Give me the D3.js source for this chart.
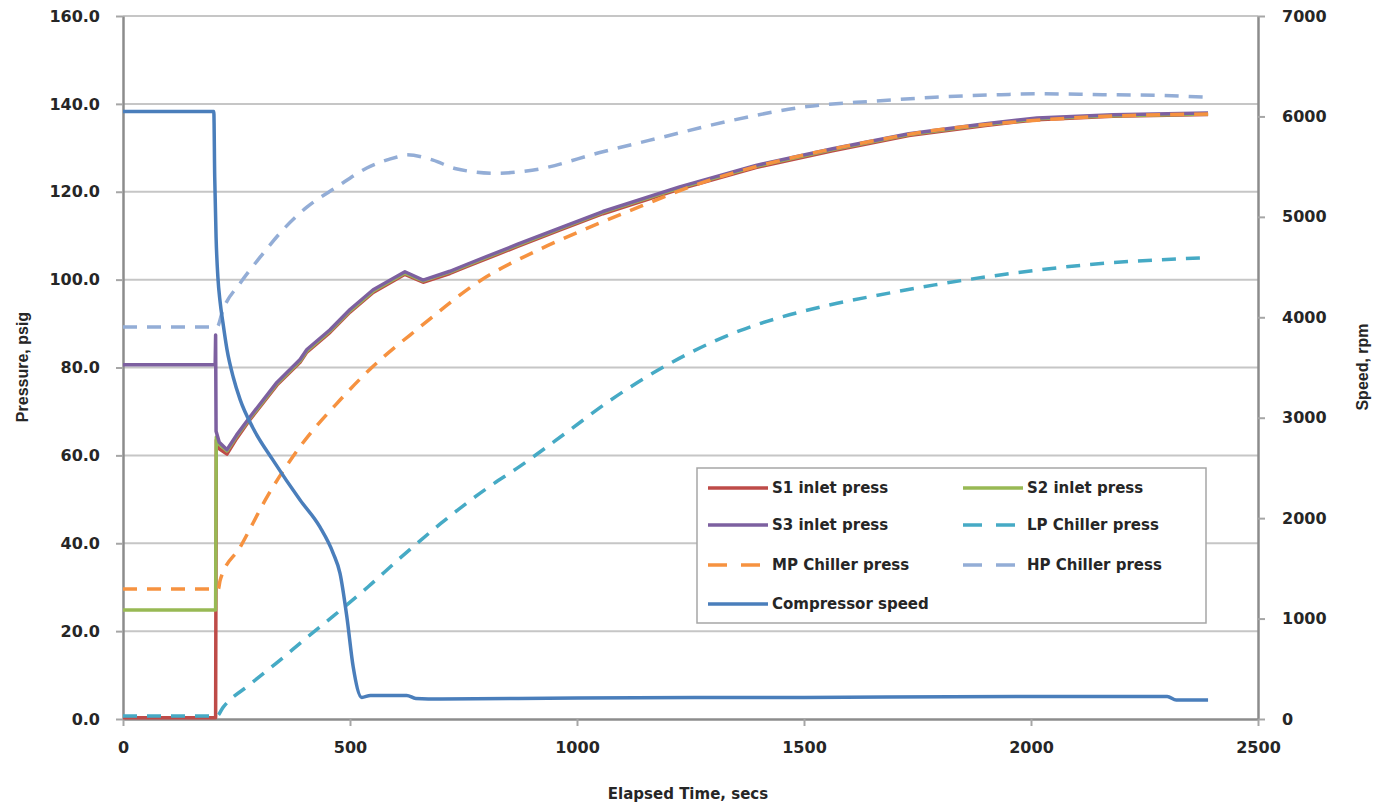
<!DOCTYPE html>
<html>
<head>
<meta charset="utf-8">
<script src="https://cdn.jsdelivr.net/npm/d3@7"></script>
<style>
  body { margin: 0; background: #fff; }
  .tick text { font-family: "DejaVu Sans", sans-serif; font-weight: bold; font-size: 16px; fill: #262626; }
  .axis-title { font-family: "Liberation Sans", Arial, sans-serif; font-weight: bold; font-size: 16px; fill: #262626; }
  .legend text { font-family: "DejaVu Sans", sans-serif; font-weight: bold; font-size: 15px; fill: #262626; }
</style>
</head>
<body>
<div id="chart"></div>
<script>
// axis ticks
const timeTicks = [0, 500, 1000, 1500, 2000, 2500];
const pressTicks = [0, 20, 40, 60, 80, 100, 120, 140, 160];
const speedTicks = [0, 1000, 2000, 3000, 4000, 5000, 6000, 7000];

// S1 inlet press
const s1Time = [0, 204, 205.5, 212, 229, 250, 280, 339, 390, 405, 456, 500, 551, 621, 661, 720, 758, 868, 963, 1057, 1226, 1394, 1563, 1731, 1900, 2013, 2181, 2390];
const s1Press = [0.3, 0.3, 63.5, 61.5, 60.3, 63.8, 68.2, 76.0, 81.2, 83.5, 88.0, 92.6, 97.1, 101.2, 99.4, 101.4, 103.0, 107.5, 111.3, 115.0, 120.6, 125.5, 129.3, 132.8, 135.1, 136.4, 137.2, 137.6];

// S2 inlet press
const s2Time = [0, 204, 205.5, 212, 229, 250, 280, 339, 390, 405, 456, 500, 551, 621, 661, 720, 758, 868, 963, 1057, 1226, 1394, 1563, 1731, 1900, 2013, 2181, 2390];
const s2Press = [24.8, 24.8, 64.2, 62.5, 61.0, 64.3, 68.5, 76.3, 81.5, 83.8, 88.3, 92.9, 97.4, 101.5, 99.7, 101.7, 103.3, 107.8, 111.6, 115.3, 120.9, 125.8, 129.6, 133.0, 135.3, 136.6, 137.3, 137.7];

// S3 inlet press
const s3Time = [0, 203, 204, 205, 212, 229, 250, 280, 339, 390, 405, 456, 500, 551, 621, 661, 720, 758, 868, 963, 1057, 1226, 1394, 1563, 1731, 1900, 2013, 2181, 2390];
const s3Press = [80.6, 80.6, 87.4, 65.5, 63.0, 61.3, 64.6, 68.8, 76.6, 81.8, 84.1, 88.6, 93.2, 97.7, 101.8, 99.9, 101.9, 103.5, 108.0, 111.8, 115.5, 121.1, 126.0, 129.8, 133.2, 135.5, 136.8, 137.5, 137.9];

// LP chiller press
const lpTime = [0, 207, 220, 280, 346, 400, 463, 540, 610, 700, 800, 874, 978, 1070, 1154, 1250, 1359, 1451, 1550, 1650, 1788, 1956, 2125, 2390];
const lpPress = [0.7, 0.7, 2.6, 7.9, 13.4, 18.1, 23.4, 30.1, 36.6, 44.5, 52.4, 57.5, 65.3, 72.3, 77.9, 83.4, 88.4, 91.5, 94.1, 96.2, 98.8, 101.4, 103.4, 105.0];

// MP chiller press
const mpTime = [0, 210, 214, 258, 317, 390, 478, 544, 654, 786, 918, 1007, 1114, 1282, 1451, 1619, 1788, 1956, 2125, 2390];
const mpPress = [29.6, 29.6, 31.6, 39.1, 50.5, 62.0, 72.6, 79.6, 89.2, 99.7, 106.9, 111.0, 115.6, 122.3, 127.2, 130.9, 134.0, 135.8, 137.0, 137.7];

// HP chiller press
const hpTime = [0, 207, 220, 258, 302, 352, 405, 471, 537, 604, 626, 683, 731, 821, 901, 1057, 1191, 1339, 1507, 1652, 1788, 1934, 2013, 2158, 2293, 2390];
const hpPress = [89.2, 89.2, 93.1, 99.2, 105.1, 111.3, 116.5, 121.1, 125.4, 127.9, 128.4, 127.2, 125.3, 124.2, 124.9, 129.1, 132.5, 136.2, 139.4, 140.6, 141.5, 142.1, 142.3, 142.1, 141.9, 141.5];

// Compressor speed (right axis)
const speedTime = [0, 200, 202, 205, 209, 214, 220, 229, 243, 258, 286, 330, 390, 434, 463, 478, 493, 507, 526, 545, 600, 625, 645, 700, 1000, 1500, 2000, 2300, 2320, 2390];
const speedRpm = [6050, 6050, 5400, 4800, 4400, 4150, 3950, 3680, 3400, 3180, 2900, 2580, 2180, 1910, 1650, 1450, 1020, 520, 215, 235, 235, 235, 205, 200, 210, 215, 225, 225, 190, 190];

const seriesNames = ["S1 inlet press", "S2 inlet press", "S3 inlet press", "LP Chiller press", "MP Chiller press", "HP Chiller press", "Compressor speed"];

const config = {
    width: 1378,
    height: 804,
    margin: { top: 16, right: 120, bottom: 85, left: 123 }
};
const innerW = config.width - config.margin.left - config.margin.right;
const innerH = config.height - config.margin.top - config.margin.bottom;

const svg = d3.select("#chart").append("svg")
    .attr("width", config.width)
    .attr("height", config.height);

const g = svg.append("g")
    .attr("transform", `translate(${config.margin.left},${config.margin.top})`);

// scales
const x = d3.scaleLinear().domain([0, 2500]).range([0, innerW]);
const y = d3.scaleLinear().domain([0, 160]).range([innerH, 0]);
const yR = d3.scaleLinear().domain([0, 7000]).range([innerH, 0]);

// horizontal gridlines
g.selectAll("line.grid")
    .data(pressTicks.filter(d => d > 0))
    .join("line")
    .attr("class", "grid")
    .attr("x1", 0).attr("x2", innerW)
    .attr("y1", d => y(d)).attr("y2", d => y(d))
    .attr("stroke", "#c6c6c6")
    .attr("stroke-width", 2);

// axes
const styleAxis = sel => {
    sel.select(".domain").attr("stroke", "#8c8c8c").attr("stroke-width", 2.5);
    sel.selectAll(".tick line").attr("stroke", "#a6a6a6").attr("stroke-width", 2);
};

g.append("g")
    .call(d3.axisLeft(y).tickValues(pressTicks).tickFormat(d3.format(".1f")).tickSize(7).tickSizeOuter(0).tickPadding(16))
    .call(styleAxis);

g.append("g")
    .attr("transform", `translate(${innerW},0)`)
    .call(d3.axisRight(yR).tickValues(speedTicks).tickFormat(d3.format("d")).tickSize(7).tickSizeOuter(0).tickPadding(17))
    .call(styleAxis);

g.append("g")
    .attr("transform", `translate(0,${innerH})`)
    .call(d3.axisBottom(x).tickValues(timeTicks).tickFormat(d3.format("d")).tickSize(7).tickSizeOuter(0).tickPadding(16))
    .call(styleAxis);

// axis titles
svg.append("text").attr("class", "axis-title")
    .attr("transform", "translate(28,367) rotate(-90)")
    .attr("text-anchor", "middle")
    .text("Pressure, psig");

svg.append("text").attr("class", "axis-title")
    .attr("transform", "translate(1368,367) rotate(-90)")
    .attr("text-anchor", "middle")
    .text("Speed, rpm");

svg.append("text").attr("class", "axis-title")
    .attr("x", 688).attr("y", 799)
    .attr("text-anchor", "middle")
    .style("font-family", "'DejaVu Sans', sans-serif")
    .style("font-size", "15px")
    .text("Elapsed Time, secs");

// series
const series = [
    { name: seriesNames[0], t: s1Time, v: s1Press, color: "#BE4B48", dash: null, scale: y, curve: d3.curveLinear },
    { name: seriesNames[1], t: s2Time, v: s2Press, color: "#98B954", dash: null, scale: y, curve: d3.curveLinear },
    { name: seriesNames[2], t: s3Time, v: s3Press, color: "#7D60A0", dash: null, scale: y, curve: d3.curveLinear },
    { name: seriesNames[3], t: lpTime, v: lpPress, color: "#46AAC5", dash: "14,10", scale: y, curve: d3.curveMonotoneX },
    { name: seriesNames[4], t: mpTime, v: mpPress, color: "#F69240", dash: "14,10", scale: y, curve: d3.curveMonotoneX },
    { name: seriesNames[5], t: hpTime, v: hpPress, color: "#93ADD6", dash: "14,10", scale: y, curve: d3.curveMonotoneX },
    { name: seriesNames[6], t: speedTime, v: speedRpm, color: "#4A7EBB", dash: null, scale: yR, curve: d3.curveMonotoneX }
];

series.forEach(s => {
    const line = d3.line()
        .x(i => x(s.t[i]))
        .y(i => s.scale(s.v[i]))
        .curve(s.curve);
    g.append("path")
        .datum(d3.range(s.t.length))
        .attr("d", line)
        .attr("fill", "none")
        .attr("stroke", s.color)
        .attr("stroke-width", 3.5)
        .attr("stroke-linejoin", "round")
        .attr("stroke-dasharray", s.dash);
});

// legend
const legend = svg.append("g").attr("class", "legend");
legend.append("rect")
    .attr("x", 697).attr("y", 468)
    .attr("width", 509).attr("height", 155)
    .attr("fill", "#fff")
    .attr("stroke", "#a6a6a6")
    .attr("stroke-width", 1.5);

const legendPos = [[708, 488], [963, 488], [708, 525], [963, 525], [708, 565], [963, 565], [708, 604]];
series.forEach((s, i) => {
    const [lx, ly] = legendPos[i];
    legend.append("line")
        .attr("x1", lx).attr("x2", lx + 60)
        .attr("y1", ly).attr("y2", ly)
        .attr("stroke", s.color)
        .attr("stroke-width", 3.5)
        .attr("stroke-dasharray", s.dash ? "19,14" : null);
    legend.append("text")
        .attr("x", lx + 64).attr("y", ly)
        .attr("dy", "0.36em")
        .text(s.name);
});
</script>
</body>
</html>
